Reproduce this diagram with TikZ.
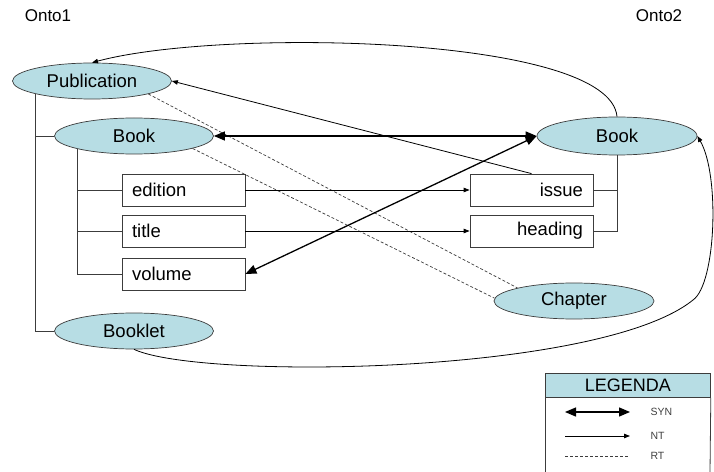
\documentclass[tikz,border=0pt]{standalone}
\usepackage{fontspec}
\setmainfont{Liberation Sans}
\usetikzlibrary{arrows.meta,calc,shapes.geometric}
\definecolor{ellfill}{RGB}{183,221,228}
\definecolor{edgegray}{RGB}{60,60,60}
\begin{document}
\begin{tikzpicture}[x=1bp,y=-1bp,
  concept/.style={ellipse,draw=edgegray,line width=0.7bp,fill=ellfill,minimum width=159bp,minimum height=36bp,inner sep=0pt,font=\fontsize{18.5bp}{20bp}\selectfont},
  propl/.style={draw=edgegray,line width=0.8bp,minimum width=123bp,minimum height=32bp,inner xsep=10bp,inner ysep=0pt,text width=103bp,align=left,font=\fontsize{18.5bp}{20bp}\selectfont},
  propr/.style={propl,align=right},
  tree/.style={line width=0.8bp,draw=edgegray},
  syn/.style={line width=1.3bp,{Triangle[length=11bp,width=9bp]}-{Triangle[length=11bp,width=9bp]}},
  nt/.style={line width=0.8bp,-{Triangle[length=6bp,width=4.5bp]}},
  rt/.style={line width=0.7bp,draw=edgegray,dash pattern=on 3bp off 2bp},
  onto/.style={font=\fontsize{17bp}{19bp}\selectfont},
  legtxt/.style={font=\fontsize{10.5bp}{12bp}\selectfont,text=darkgray,anchor=west}
]
\useasboundingbox (0,0) rectangle (714,472);

% titles
\node[onto] (onto1) at (48,16) {Onto1};
\node[onto] (onto2) at (659,16) {Onto2};

% Onto1 concepts
\node[concept] (pub) at (92,81) {Publication};
\node[concept] (book1) at (134,136) {Book};
\node[concept] (booklet) at (134,331) {Booklet};
\node[propl] (edition) at (183.5,190) {edition};
\node[propl] (title) at (183.5,231) {title};
\node[propl] (volume) at (183.5,274) {volume};

% Onto2 concepts
\node[concept,minimum width=160bp,minimum height=38bp] (book2) at (617,136) {Book};
\node[propr] (issue) at (531.5,190) {issue};
\node[propr] (heading) at (531.5,231) {heading};
\node[concept,minimum width=160bp] (chapter) at (574,301) {Chapter};

% tree lines Onto1
\draw[tree] (pub.193) -- (pub.193 |- booklet.west) -- (booklet.west);
\draw[tree] (pub.193 |- book1.west) -- (book1.west);
\draw[tree] (book1.193) -- (book1.193 |- volume.west) -- (volume.west);
\draw[tree] (book1.193 |- edition.west) -- (edition.west);
\draw[tree] (book1.193 |- title.west) -- (title.west);

% tree lines Onto2
\draw[tree] (book2.south) -- (book2.south |- heading.east) -- (heading.east);
\draw[tree] (issue.east) -- (issue.east -| book2.south);

% RT
\draw[rt] (pub.-13) -- (chapter.167);
\draw[rt] (book1.-12) -- (chapter.178);

% NT
\draw[nt] (edition.east) -- (issue.west);
\draw[nt] (title.east) -- (heading.west);
\draw[nt] (issue.north) -- (pub.east);
\draw[nt] (book2.north) .. controls (610,35) and (220,28) .. (pub.north);
\draw[nt] (booklet.south) .. controls (200,380) and (600,375) .. (693,300)
  .. controls (716,284) and (720,175) .. (book2.east);

% SYN
\draw[syn] (book1.east) -- (book2.west);
\draw[syn] (volume.east) -- (book2.west);

% Legend
\node[draw=edgegray,line width=0.8bp,fill=ellfill,minimum width=165bp,minimum height=24bp,inner sep=0pt,anchor=north west,font=\fontsize{18bp}{20bp}\selectfont] (leghead) at (545,373) {LEGENDA};
\coordinate (legbl) at (545,472);
\coordinate (legbr) at (710,472);
\draw[line width=0.8bp,draw=edgegray] (leghead.south west) -- (legbl);
\draw[line width=0.8bp,draw=edgegray] (leghead.south east) -- (legbr);
\coordinate (s1) at (565,412); \coordinate (s2) at (630,412);
\coordinate (n1) at (565,436); \coordinate (n2) at (630,436);
\coordinate (r1) at (565,456); \coordinate (r2) at (630,456);
\draw[syn] (s1) -- (s2);
\draw[nt] (n1) -- (n2);
\draw[rt] (r1) -- (r2);
\node[legtxt] (lsyn) at (647,412) {SYN};
\node[legtxt] (lnt) at (647,436) {NT};
\node[legtxt] (lrt) at (647,456) {RT};
\end{tikzpicture}
\end{document}
